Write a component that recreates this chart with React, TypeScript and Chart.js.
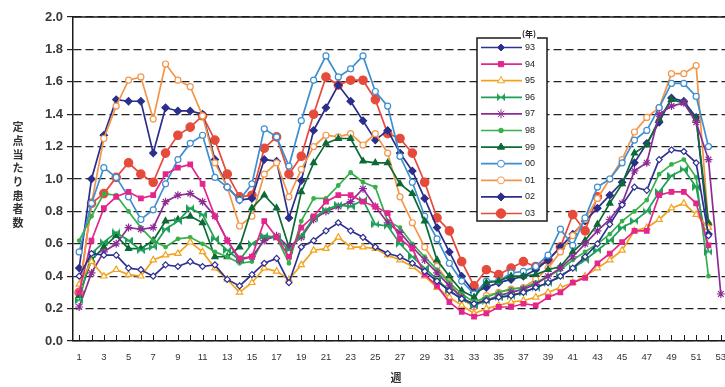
import React, { useEffect, useRef } from 'react';
import { Chart, registerables } from 'chart.js';
import { drawPoint } from 'chart.js/helpers';

Chart.register(...registerables);

const weeks = [
  '1','2','3','4','5','6','7','8','9','10',
  '11','12','13','14','15','16','17','18','19','20',
  '21','22','23','24','25','26','27','28','29','30',
  '31','32','33','34','35','36','37','38','39','40',
  '41','42','43','44','45','46','47','48','49','50',
  '51','52','53',
];

const seriesNames = ['93', '94', '95', '96', '97', '98', '99', '00', '01', '02', '03'];

const s93 = [
  0.40,0.54,0.53,0.53,0.45,0.44,0.40,0.47,0.46,0.49,
  0.46,0.47,0.38,0.34,0.41,0.48,0.51,0.36,0.58,0.62,
  0.68,0.73,0.68,0.64,0.58,0.54,0.52,0.48,0.43,0.37,
  0.31,0.26,0.23,0.25,0.27,0.28,0.30,0.33,0.36,0.40,
  0.45,0.52,0.60,0.72,0.84,0.95,0.93,1.12,1.18,1.17,
  1.10,0.65,null,
];
const s94 = [
  0.30,0.62,0.82,0.89,0.92,0.88,0.90,1.03,1.07,1.09,
  0.97,0.77,0.62,0.51,0.52,0.74,0.64,0.52,0.70,0.77,
  0.86,0.90,0.90,0.86,0.83,0.79,0.63,0.57,0.41,0.34,
  0.24,0.18,0.15,0.17,0.21,0.21,0.23,0.22,0.27,0.30,
  0.36,0.39,0.48,0.54,0.61,0.68,0.68,0.90,0.92,0.92,
  0.85,0.59,null,
];
const s95 = [
  0.35,0.49,0.40,0.44,0.41,0.40,0.50,0.53,0.54,0.61,
  0.55,0.45,0.38,0.30,0.36,0.45,0.43,0.38,0.47,0.56,
  0.57,0.64,0.58,0.58,0.57,0.53,0.50,0.46,0.40,0.33,
  0.27,0.22,0.17,0.20,0.22,0.24,0.25,0.27,0.30,0.33,
  0.36,0.40,0.45,0.50,0.56,0.68,0.70,0.75,0.82,0.85,
  0.78,0.70,null,
];
const s96 = [
  0.25,0.54,0.61,0.67,0.62,0.56,0.58,0.69,0.74,0.82,
  0.78,0.63,0.56,0.50,0.60,0.65,0.64,0.56,0.65,0.76,
  0.81,0.84,0.83,0.87,0.72,0.71,0.60,0.52,0.45,0.38,
  0.31,0.26,0.22,0.25,0.27,0.28,0.30,0.33,0.36,0.40,
  0.45,0.50,0.56,0.62,0.70,0.74,0.80,0.92,1.02,1.06,
  0.95,0.55,null,
];
const s97 = [
  0.21,0.42,0.55,0.60,0.70,0.69,0.70,0.86,0.90,0.91,
  0.86,0.77,0.62,0.50,0.52,0.62,0.65,0.58,0.64,0.75,
  0.80,0.83,0.86,0.94,0.83,0.73,0.67,0.58,0.50,0.42,
  0.34,0.27,0.22,0.25,0.28,0.30,0.32,0.35,0.40,0.45,
  0.52,0.60,0.68,0.75,0.85,1.05,1.10,1.40,1.45,1.47,
  1.35,1.12,0.29,
];
const s98 = [
  0.62,0.77,0.91,0.90,0.80,0.70,0.62,0.58,0.63,0.64,
  0.60,0.55,0.52,0.48,0.49,0.64,0.64,0.48,0.74,0.88,
  0.88,0.96,1.04,0.98,0.95,0.74,0.70,0.60,0.52,0.44,
  0.36,0.29,0.24,0.27,0.30,0.32,0.33,0.36,0.40,0.44,
  0.50,0.55,0.60,0.66,0.74,0.80,0.87,1.03,1.09,1.12,
  1.01,0.40,null,
];
const s99 = [
  0.28,0.50,0.58,0.65,0.57,0.57,0.62,0.74,0.75,0.77,
  0.73,0.52,0.52,0.58,0.82,0.90,0.82,0.58,0.92,1.10,
  1.22,1.25,1.25,1.11,1.10,1.10,0.97,0.91,0.74,0.50,
  0.40,0.31,0.27,0.36,0.37,0.40,0.40,0.41,0.44,0.46,
  0.55,0.62,0.72,0.85,0.97,1.16,1.21,1.37,1.49,1.47,
  1.37,0.73,null,
];
const s00 = [
  0.55,0.85,1.07,1.01,0.89,0.75,0.81,0.97,1.12,1.22,
  1.27,1.01,0.95,0.87,0.97,1.31,1.26,1.08,1.36,1.61,
  1.76,1.63,1.68,1.76,1.54,1.45,1.14,0.98,0.77,0.63,
  0.48,0.37,0.29,0.37,0.37,0.42,0.43,0.46,0.53,0.69,
  0.59,0.76,0.95,1.00,1.10,1.24,1.30,1.44,1.59,1.59,
  1.51,1.20,null,
];
const s01 = [
  0.30,0.85,1.25,1.45,1.61,1.63,1.37,1.71,1.61,1.57,
  1.39,1.10,0.95,0.71,0.77,1.03,1.10,0.89,1.06,1.20,
  1.27,1.26,1.28,1.21,1.28,1.16,0.89,0.73,0.58,0.46,
  0.36,0.26,0.21,0.28,0.30,0.32,0.33,0.38,0.45,0.55,
  0.65,0.75,0.88,1.00,1.12,1.29,1.38,1.44,1.65,1.65,
  1.70,0.72,null,
];
const s02 = [
  0.45,1.00,1.27,1.49,1.48,1.48,1.16,1.44,1.42,1.42,
  1.40,1.12,0.95,0.87,0.88,1.12,1.11,0.76,0.99,1.30,
  1.44,1.58,1.48,1.36,1.24,1.30,1.16,1.05,0.88,0.70,
  0.55,0.40,0.30,0.33,0.36,0.38,0.40,0.44,0.50,0.58,
  0.66,0.74,0.82,0.90,0.98,1.10,1.22,1.35,1.50,1.48,
  1.38,0.66,null,
];
const s03 = [
  0.30,0.85,0.91,1.01,1.10,1.03,0.98,1.16,1.27,1.32,
  1.39,1.24,1.03,0.89,0.90,1.19,1.26,1.03,1.14,1.40,
  1.63,1.58,1.61,1.61,1.49,1.28,1.25,1.16,0.98,0.76,
  0.68,0.49,0.34,0.44,0.41,0.45,0.49,0.46,0.50,0.58,
  0.78,0.68,0.89,null,null,null,null,null,null,null,
  null,null,null,
];

const seriesValues = [s93, s94, s95, s96, s97, s98, s99, s00, s01, s02, s03];

const Y_MIN = 0;
const Y_MAX = 2;
const Y_STEP = 0.2;
const yTitle = '定点当たり患者数';
const xTitle = '週';
const legendTitle = '(年)';

type Sty = { color: string; point: string; r: number; fill: string; legendFill?: string };
const STYLES: Sty[] = [
  { color: '#2E3192', point: 'rectRot', r: 3, fill: '#ffffff', legendFill: '#2E3192' },
  { color: '#E3268C', point: 'rect', r: 3.2, fill: '#E3268C' },
  { color: '#F2A31E', point: 'triangle', r: 3.6, fill: '#ffffff' },
  { color: '#1E9E56', point: 'bowtie', r: 3.5, fill: '#1E9E56' },
  { color: '#8E2C96', point: 'star', r: 4, fill: '#8E2C96' },
  { color: '#35B04A', point: 'circle', r: 1.8, fill: '#35B04A' },
  { color: '#0B6A35', point: 'triangle', r: 3.6, fill: '#0B6A35' },
  { color: '#3D8FD1', point: 'circle', r: 3, fill: '#ffffff' },
  { color: '#F4964A', point: 'circle', r: 3, fill: '#ffffff' },
  { color: '#2B2F8C', point: 'rectRot', r: 3.6, fill: '#2B2F8C' },
  { color: '#E64A3B', point: 'circle', r: 4.2, fill: '#E64A3B' },
];

function makeBowtie(color: string) {
  const c = document.createElement('canvas');
  c.width = 8;
  c.height = 8;
  const g = c.getContext('2d')!;
  g.fillStyle = color;
  g.beginPath();
  g.moveTo(0, 0); g.lineTo(4, 4); g.lineTo(0, 8); g.closePath();
  g.moveTo(8, 0); g.lineTo(4, 4); g.lineTo(8, 8); g.closePath();
  g.fill();
  return c;
}

const decor = {
  id: 'decor',
  afterDraw(chart: any) {
    const { ctx, chartArea: a, scales } = chart;
    ctx.save();
    ctx.strokeStyle = '#1a1a1a';
    ctx.lineWidth = 1.5;
    ctx.setLineDash([]);
    ctx.beginPath();
    ctx.moveTo(a.left, a.top);
    ctx.lineTo(a.right, a.top);
    ctx.stroke();
    const xs = scales.x;
    ctx.lineWidth = 1;
    ctx.beginPath();
    for (let i = 0; i < weeks.length; i++) {
      const x = Math.round(xs.getPixelForValue(i)) + 0.5;
      ctx.moveTo(x, a.bottom);
      ctx.lineTo(x, a.bottom - 6);
    }
    ctx.stroke();

    ctx.fillStyle = '#333';
    ctx.font = 'bold 11px "Noto Sans CJK JP"';
    ctx.textAlign = 'center';
    ctx.textBaseline = 'middle';
    const chars = Array.from(yTitle);
    const step = 13.7;
    const cy = (a.top + a.bottom) / 2 - 4;
    const y0 = cy - ((chars.length - 1) * step) / 2;
    chars.forEach((ch, i) => ctx.fillText(ch, 18, y0 + i * step));

    ctx.font = 'bold 11px "Noto Sans CJK JP"';
    ctx.fillText(xTitle, 396, 378);

    const lx = 477, ly = 38, lw = 70, lh = 183;
    ctx.fillStyle = '#ffffff';
    ctx.fillRect(lx, ly, lw, lh);
    ctx.strokeStyle = '#1a1a1a';
    ctx.lineWidth = 1.5;
    ctx.strokeRect(lx, ly, lw, lh);
    ctx.font = 'bold 8px "Noto Sans CJK JP"';
    const tw = ctx.measureText(legendTitle).width;
    ctx.fillStyle = '#ffffff';
    ctx.fillRect(521, 29, tw + 2, 11);
    ctx.fillStyle = '#222';
    ctx.textAlign = 'left';
    ctx.fillText(legendTitle, 522, 34);

    const rowY0 = 47.5;
    const rowStep = 16.6;
    chart.data.datasets.forEach((ds: any, i: number) => {
      const st = STYLES[i];
      const y = rowY0 + i * rowStep;
      ctx.strokeStyle = st.color;
      ctx.lineWidth = 1.7;
      ctx.beginPath();
      ctx.moveTo(481, y);
      ctx.lineTo(522, y);
      ctx.stroke();
      ctx.fillStyle = st.legendFill || st.fill;
      ctx.strokeStyle = st.color;
      ctx.lineWidth = 1;
      drawPoint(ctx, { pointStyle: ds.pointStyle, rotation: 0, radius: st.r + 0.5, borderWidth: 1 }, 501, y);
      ctx.fillStyle = '#222';
      ctx.font = '9px "Liberation Sans"';
      ctx.textAlign = 'left';
      ctx.textBaseline = 'middle';
      ctx.fillText(seriesNames[i], 525, y);
    });
    ctx.restore();
  },
};

export default function App() {
  const ref = useRef<HTMLCanvasElement | null>(null);
  useEffect(() => {
    if (!ref.current) return;
    const datasets = seriesValues.map((vals, i) => {
      const st = STYLES[i];
      const ps: any = st.point === 'bowtie' ? makeBowtie(st.color) : st.point;
      return {
        label: seriesNames[i],
        data: vals,
        borderColor: st.color,
        backgroundColor: st.fill,
        borderWidth: 1.7,
        pointStyle: ps,
        pointRadius: st.r,
        pointHoverRadius: st.r,
        pointBorderWidth: 1.2,
        pointBorderColor: st.color,
        pointBackgroundColor: st.fill,
        tension: 0,
        spanGaps: false,
        fill: false,
      };
    });
    const chart = new Chart(ref.current, {
      type: 'line',
      data: { labels: weeks, datasets },
      options: {
        responsive: false,
        animation: false,
        events: [],
        layout: { padding: { top: 17, right: 13, bottom: 0, left: 0 } },
        plugins: { legend: { display: false }, tooltip: { enabled: false } },
        scales: {
          x: {
            type: 'category',
            offset: true,
            grid: { display: false, drawTicks: false },
            border: { display: true, color: '#1a1a1a', width: 1.5 },
            ticks: {
              autoSkip: false,
              maxRotation: 0,
              minRotation: 0,
              padding: 11,
              color: '#333',
              font: { family: 'Liberation Sans', size: 9.5 },
              callback: (_v: any, idx: number) => (idx % 2 === 0 ? weeks[idx] : ''),
            },
            afterFit: (s: any) => { s.height = 46; },
          },
          y: {
            min: Y_MIN,
            max: Y_MAX,
            grid: {
              color: '#222',
              lineWidth: 1.2,
              drawTicks: true,
              tickLength: 6,
              tickColor: '#222',
              tickWidth: 1.2,
              tickBorderDash: [],
            },
            border: { display: true, color: '#1a1a1a', width: 1.5, dash: [8, 4] },
            ticks: {
              stepSize: Y_STEP,
              padding: 4,
              color: '#3a3a3a',
              font: { family: 'Liberation Sans', size: 13, weight: 'bold' },
              callback: (v: any) => Number(v).toFixed(1),
            },
            afterFit: (s: any) => { s.width = 73; },
          },
        },
      },
      plugins: [decor],
    });
    return () => chart.destroy();
  }, []);
  return (
    <div style={{ position: 'fixed', left: 0, top: 0, width: 725, height: 387, overflow: 'hidden', background: '#fff' }}>
      <canvas ref={ref} width={740} height={387} style={{ display: 'block' }} />
    </div>
  );
}
